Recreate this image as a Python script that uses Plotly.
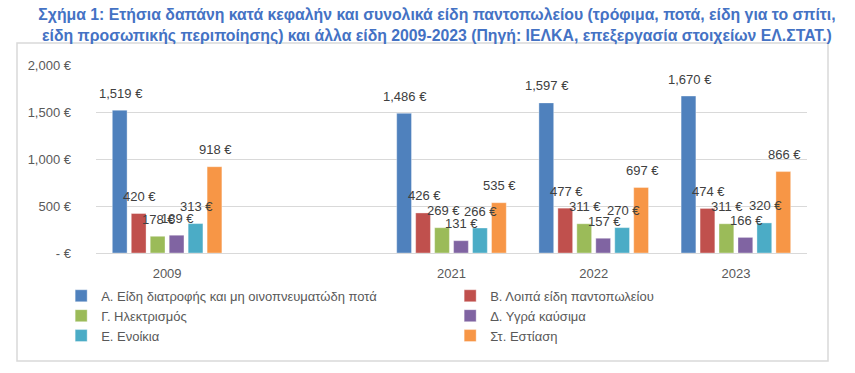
import plotly.graph_objects as go

categories = ["2009", " ", "2021", "2022", "2023"]
series_names = [
    "Α. Είδη διατροφής και μη οινοπνευματώδη ποτά",
    "Β. Λοιπά είδη παντοπωλείου",
    "Γ. Ηλεκτρισμός",
    "Δ. Υγρά καύσιμα",
    "Ε. Ενοίκια",
    "Στ. Εστίαση",
]
food = [1519, None, 1486, 1597, 1670]
other_grocery = [420, None, 426, 477, 474]
electricity = [178, None, 269, 311, 311]
fuel = [189, None, 131, 157, 166]
rent = [313, None, 266, 270, 320]
restaurants = [918, None, 535, 697, 866]
series_values = [food, other_grocery, electricity, fuel, rent, restaurants]
colors = ["#4F81BD", "#C0504D", "#9BBB59", "#8064A2", "#4BACC6", "#F79646"]

y_tick_vals = [0, 500, 1000, 1500, 2000]
y_tick_text = ["- €", "500 €", "1,000 €", "1,500 €", "2,000 €"]

FONT = "Arial, 'Liberation Sans', sans-serif"
W, H = 855, 373
ML, MR, MT, MB = 96, 48, 65, 120
BARGAP, GROUPGAP = 0.2, 0.22

fig = go.Figure()
for name, vals, col in zip(series_names, series_values, colors):
    fig.add_trace(go.Bar(
        x=categories, y=vals, name=name,
        marker=dict(color=col, line=dict(width=0.6, color="rgba(255,255,255,0.6)")),
        hoverinfo="skip",
    ))

# data labels above bars (positions derived from category index + value through the axes)
plot_w = W - ML - MR
cat_w = plot_w / len(categories)
slot = cat_w * (1 - BARGAP) / len(series_values)
annotations = []
for i, vals in enumerate(series_values):
    for ci, v in enumerate(vals):
        if v is None:
            continue
        annotations.append(dict(
            x=ci, y=v, xref="x", yref="y", text=f"{v:,} €",
            showarrow=False, xshift=(i - (len(series_values) - 1) / 2) * slot + 1,
            yshift=17, yanchor="middle", xanchor="center",
            font=dict(family=FONT, size=13, color="#404040"),
        ))

fig.update_layout(
    width=W, height=H,
    margin=dict(l=ML, r=MR, t=MT, b=MB),
    paper_bgcolor="white", plot_bgcolor="white",
    barmode="group", bargap=BARGAP, bargroupgap=GROUPGAP,
    title=dict(
        text="Σχήμα 1: Ετήσια δαπάνη κατά κεφαλήν και συνολικά είδη παντοπωλείου (τρόφιμα, ποτά, είδη για το σπίτι,<br>είδη προσωπικής περιποίησης) και άλλα είδη 2009-2023 (Πηγή: ΙΕΛΚΑ, επεξεργασία στοιχείων ΕΛ.ΣΤΑΤ.)",
        font=dict(family=FONT, size=15.8, color="#4472C4", weight="bold"),
        x=437 / W, xanchor="center", xref="container",
        y=1 - 20 / H, yanchor="top", yref="container",
    ),
    xaxis=dict(
        type="category", categoryorder="array", categoryarray=categories,
        range=[-0.5, len(categories) - 0.5], autorange=False,
        showgrid=False, showline=True, linecolor="#d9d9d9", linewidth=1,
        ticks="", tickfont=dict(family=FONT, size=13, color="#595959"),
        ticklabelstandoff=8,
    ),
    yaxis=dict(
        range=[0, 2000], tickvals=y_tick_vals, ticktext=y_tick_text,
        showgrid=True, gridcolor="#d9d9d9", gridwidth=1,
        zeroline=False, showline=False, ticks="",
        tickfont=dict(family=FONT, size=13, color="#595959"),
        ticklabelstandoff=24,
    ),
    legend=dict(
        orientation="h", x=-0.049, xanchor="left", y=-0.148, yanchor="top",
        entrywidth=344, entrywidthmode="pixels",
        font=dict(family=FONT, size=13, color="#595959"),
        itemclick=False, bgcolor="rgba(0,0,0,0)",
    ),
    annotations=annotations,
    shapes=[dict(
        type="rect", xref="paper", yref="paper",
        xsizemode="pixel", ysizemode="pixel", xanchor=0, yanchor=0,
        x0=17 - ML, x1=828 - ML, y0=-(361 - (H - MB)), y1=(H - MB) - 43,
        line=dict(color="#d9d9d9", width=1.5), fillcolor="rgba(0,0,0,0)",
        layer="below",
    )],
    showlegend=True,
)

fig.write_html(
    "out.html",
    config={"displayModeBar": False},
    post_script="document.body.style.margin='0';document.body.style.overflow='hidden';",
)
